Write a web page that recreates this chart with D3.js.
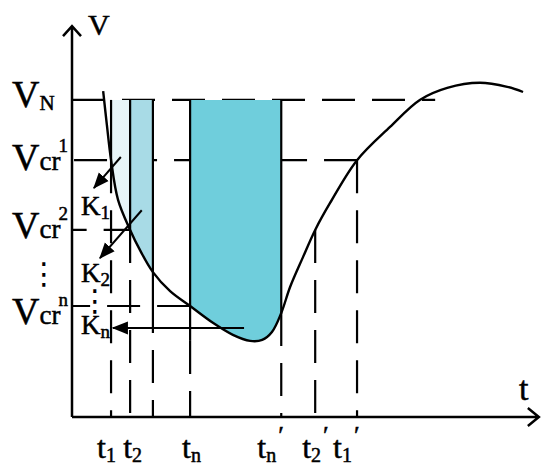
<!DOCTYPE html>
<html>
<head>
<meta charset="utf-8">
<script src="https://cdn.jsdelivr.net/npm/d3@7"></script>
<style>
body { margin: 0; background: #fff; }
#chart text { font-family: "Liberation Serif", "DejaVu Serif", "Times New Roman", Times, serif; fill: #000; stroke: #000; stroke-width: 0.5; }
#chart text.dots { font-family: "DejaVu Sans", sans-serif; stroke: none; }
</style>
</head>
<body>
<svg id="chart"></svg>
<script>
let width = 550;
let height = 473;

// speed curve V(t) (arbitrary units)
let curveT = [6.7, 7.5, 8.4, 9.9, 12.5, 14.6, 17.4, 21.1, 25.4, 30.3, 34.6, 38.3, 40.9, 43.0, 45.0, 46.9, 49.7, 52.3, 55.5, 61.3, 68.4, 74.8, 80.7, 87.7, 93.6, 97.0];
let curveV = [102.8, 92.1, 81.0, 68.5, 59.0, 52.7, 45.7, 39.7, 35.0, 29.7, 25.9, 24.0, 24.3, 26.8, 32.8, 41.0, 50.5, 59.0, 67.5, 81.0, 91.5, 100, 103.8, 105.4, 104.1, 102.5];

// speed levels: V_N, Vcr^1, Vcr^2, Vcr^n
let levelV = [100, 81, 59, 35];
let levelEndT = [78.1, 61.3, 13.9, 25.4];
let levelSub = ['N', 'cr', 'cr', 'cr'];
let levelSup = ['', '1', '2', 'n'];

// vertical guides (t1, t2, -, tn, tn', t2', t1')
let dropT = [8.4, 12.5, 17.4, 25.4, 45.0, 52.3, 61.3];
let dropTopV = [100, 100, 100, 100, 100, 59, 81];
let dropSolidV = [81, 59, 36.9, 24.0, 32.8, 59, 81];

// tick labels on the t axis
let tickT = [8.4, 12.5, 25.4, 45.0, 52.3, 61.3];
let tickSub = ['1', '2', 'n', 'n', '2', '1'];
let tickPrime = [false, false, false, true, true, true];

// shaded intervals under V_N
let fillFrom = [8.4, 12.5, 25.4];
let fillTo = [12.5, 17.4, 45.0];

// K arrows
let arrowFromT = [10.5, 15.0, 37.0];
let arrowFromV = [82.0, 65.2, 28.1];
let arrowToT = [4.7, 6.0, 8.8];
let arrowToV = [72.2, 50.1, 28.1];
let arrowSub = ['1', '2', 'n'];

let fillColors = ['url(#gradA)', '#a8dbe6', '#6fcedc'];
let tickShift = [-14, -7, -8, -24, -13, -24];
let kLabelShift = [27, 24, 6];
let levelShift = [7, 10, 8, 18];

let svg, xScale, yScale;

function draw() {
    xScale = d3.scaleLinear().domain([0, 100]).range([72, 537]);
    yScale = d3.scaleLinear().domain([0, 123]).range([417, 27]);
    let x0 = xScale(0), y0 = yScale(0);
    let pts = curveT.map((t, i) => [t, curveV[i]]);

    let defs = svg.append('defs');
    let grad = defs.append('linearGradient').attr('id', 'gradA')
        .attr('x1', '0%').attr('x2', '100%').attr('y1', '0%').attr('y2', '0%');
    grad.append('stop').attr('offset', '0%').attr('stop-color', '#e9f6f9');
    grad.append('stop').attr('offset', '100%').attr('stop-color', '#c4e7ef');
    defs.append('marker').attr('id', 'head')
        .attr('markerUnits', 'userSpaceOnUse')
        .attr('viewBox', '0 -7 16 14')
        .attr('markerWidth', 16).attr('markerHeight', 14)
        .attr('refX', 15).attr('refY', 0)
        .attr('orient', 'auto')
        .append('path').attr('d', 'M0,-6.5L16,0L0,6.5Z').attr('fill', '#000');

    // horizontal dashed levels
    levelV.forEach((v, i) => {
        let xa = i === 0 ? x0 : xScale(levelEndT[i]);
        let xb = i === 0 ? xScale(levelEndT[i]) : x0;
        svg.append('line')
            .attr('x1', xa).attr('x2', xb)
            .attr('y1', yScale(v)).attr('y2', yScale(v))
            .attr('stroke', '#000').attr('stroke-width', 2.2)
            .attr('stroke-dasharray', '33,17');
    });

    // shaded areas between V_N and the curve
    let area = d3.area().curve(d3.curveCatmullRom)
        .x(d => xScale(d[0]))
        .y0(d => yScale(d[1]))
        .y1(yScale(levelV[0]));
    fillFrom.forEach((f, i) => {
        defs.append('clipPath').attr('id', 'clip' + i)
            .append('rect')
            .attr('x', xScale(f)).attr('y', yScale(levelV[0]))
            .attr('width', xScale(fillTo[i]) - xScale(f))
            .attr('height', y0 - yScale(levelV[0]));
        svg.append('path').datum(pts)
            .attr('d', area)
            .attr('fill', fillColors[i])
            .attr('clip-path', 'url(#clip' + i + ')');
    });

    // vertical guides
    dropT.forEach((t, i) => {
        let xx = xScale(t);
        if (dropSolidV[i] < dropTopV[i]) {
            svg.append('line')
                .attr('x1', xx).attr('x2', xx)
                .attr('y1', yScale(dropTopV[i])).attr('y2', yScale(dropSolidV[i]))
                .attr('stroke', '#000').attr('stroke-width', 2.2);
        }
        svg.append('line')
            .attr('x1', xx).attr('x2', xx)
            .attr('y1', yScale(dropSolidV[i])).attr('y2', y0)
            .attr('stroke', '#000').attr('stroke-width', 2.2)
            .attr('stroke-dasharray', '33,17');
    });

    // the V(t) curve
    svg.append('path').datum(pts)
        .attr('d', d3.line().curve(d3.curveCatmullRom).x(d => xScale(d[0])).y(d => yScale(d[1])))
        .attr('fill', 'none').attr('stroke', '#000').attr('stroke-width', 2.4);

    // axes with open arrow heads
    let yTop = yScale(123.3), xEnd = xScale(100.4);
    svg.append('path')
        .attr('d', `M${x0},${y0}V${yTop}M${x0 - 9},${yTop + 10}L${x0},${yTop}L${x0 + 9},${yTop + 10}`)
        .attr('fill', 'none').attr('stroke', '#000').attr('stroke-width', 2.5);
    svg.append('path')
        .attr('d', `M${x0},${y0}H${xEnd}M${xEnd - 11},${y0 - 9}L${xEnd},${y0}L${xEnd - 11},${y0 + 9}`)
        .attr('fill', 'none').attr('stroke', '#000').attr('stroke-width', 2.5);
    svg.append('text').attr('x', 88).attr('y', 35).attr('font-size', 30).text('V');
    svg.append('text').attr('x', 519).attr('y', 400).attr('font-size', 34).text('t');

    // K arrows
    arrowFromT.forEach((t, i) => {
        svg.append('line')
            .attr('x1', xScale(t)).attr('y1', yScale(arrowFromV[i]))
            .attr('x2', xScale(arrowToT[i])).attr('y2', yScale(arrowToV[i]))
            .attr('stroke', '#000').attr('stroke-width', 2)
            .attr('marker-end', 'url(#head)');
        let k = svg.append('text')
            .attr('x', 81).attr('y', yScale(arrowToV[i]) + kLabelShift[i])
            .attr('font-size', 27);
        k.append('tspan').text('K');
        k.append('tspan').attr('font-size', 19).attr('dy', 4).text(arrowSub[i]);
    });

    // level labels on the left
    levelV.forEach((v, i) => {
        let lab = svg.append('text')
            .attr('x', 12).attr('y', yScale(v) + levelShift[i])
            .attr('font-size', 38);
        lab.append('tspan').text('V');
        if (i === 0) {
            lab.append('tspan').attr('font-size', 21).attr('dy', 3).text(levelSub[i]);
        } else {
            lab.append('tspan').attr('font-size', 27).text(levelSub[i]);
            lab.append('tspan').attr('font-size', 19).attr('dx', -2).attr('dy', -18).text(levelSup[i]);
        }
    });

    // vertical ellipses
    svg.append('text').attr('class', 'dots').attr('x', 44).attr('y', yScale(levelV[2]) + 54)
        .attr('font-size', 30).attr('text-anchor', 'middle').text('⋮');
    svg.append('text').attr('class', 'dots').attr('x', 95).attr('y', yScale(levelV[3]) + 5)
        .attr('font-size', 30).attr('text-anchor', 'middle').text('⋮');

    // t tick labels
    tickT.forEach((t, i) => {
        let lab = svg.append('text')
            .attr('x', xScale(t) + tickShift[i]).attr('y', 458)
            .attr('font-size', 32);
        lab.append('tspan').text('t');
        lab.append('tspan').attr('font-size', 20).attr('dy', 4).text(tickSub[i]);
        if (tickPrime[i]) {
            lab.append('tspan').attr('font-size', 26).attr('dx', 2).attr('dy', -18).text('′');
        }
    });
}

function main() {
    svg = d3.select('#chart')
        .attr('width', width)
        .attr('height', height);
    draw();
}

main();
</script>
</body>
</html>
